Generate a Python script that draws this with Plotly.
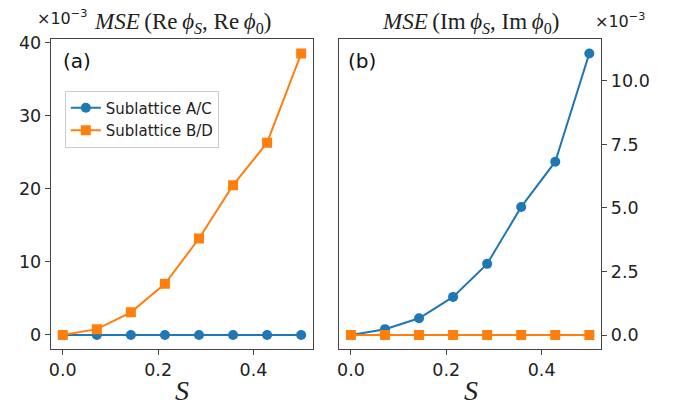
import plotly.graph_objects as go

S = [0.0, 1/14, 2/14, 3/14, 4/14, 5/14, 6/14, 7/14]
# values in units of 1e-3
re_ac = [0, 0, 0, 0, 0, 0, 0, 0]
re_bd = [0.0, 0.8, 3.1, 7.0, 13.2, 20.5, 26.3, 38.5]
im_ac = [0.0, 0.23, 0.66, 1.5, 2.8, 5.04, 6.82, 11.08]
im_bd = [0, 0, 0, 0, 0, 0, 0, 0]

left_yticks = [0, 10, 20, 30, 40]
right_yticks = [0.0, 2.5, 5.0, 7.5, 10.0]
xticks = [0.0, 0.2, 0.4]

BLUE = "#1f77b4"
ORANGE = "#ff7f0e"
W, H = 682, 412

fig = go.Figure()
fig.add_trace(go.Scatter(x=S, y=re_ac, mode="lines+markers", name="Sublattice A/C",
                         line=dict(color=BLUE, width=2), marker=dict(symbol="circle", size=10, color=BLUE),
                         xaxis="x", yaxis="y"))
fig.add_trace(go.Scatter(x=S, y=re_bd, mode="lines+markers", name="Sublattice B/D",
                         line=dict(color=ORANGE, width=2), marker=dict(symbol="square", size=10, color=ORANGE),
                         xaxis="x", yaxis="y"))
fig.add_trace(go.Scatter(x=S, y=im_ac, mode="lines+markers", showlegend=False,
                         line=dict(color=BLUE, width=2), marker=dict(symbol="circle", size=10, color=BLUE),
                         xaxis="x2", yaxis="y2"))
fig.add_trace(go.Scatter(x=S, y=im_bd, mode="lines+markers", showlegend=False,
                         line=dict(color=ORANGE, width=2), marker=dict(symbol="square", size=10, color=ORANGE),
                         xaxis="x2", yaxis="y2"))

tickfont = dict(family="DejaVu Sans", size=17.5, color="#222")
axcommon = dict(showgrid=False, zeroline=False, showline=True, linecolor="#444", linewidth=1.2,
                mirror=True, ticks="outside", ticklen=5, tickcolor="#444", tickfont=tickfont)

ydom = [(H - 348) / H, (H - 33) / H]
fig.update_layout(
    width=W, height=H, margin=dict(l=0, r=0, t=0, b=0),
    paper_bgcolor="white", plot_bgcolor="white",
    xaxis=dict(domain=[49 / W, 312 / W], range=[-0.025, 0.525], tickvals=xticks, tickformat=".1f",
               anchor="y", **axcommon),
    yaxis=dict(domain=ydom, range=[-1.93, 40.43], tickvals=left_yticks, anchor="x", **axcommon),
    xaxis2=dict(domain=[338 / W, 601 / W], range=[-0.025, 0.525], tickvals=xticks, tickformat=".1f",
                anchor="y2", **axcommon),
    yaxis2=dict(domain=ydom, range=[-0.554, 11.63], tickvals=right_yticks, tickformat=".1f",
                anchor="x2", side="right", **axcommon),
    legend=dict(x=63 / W, y=1 - 85 / H, xanchor="left", yanchor="top", bgcolor="white",
                bordercolor="#cccccc", borderwidth=1, font=dict(family="DejaVu Sans", size=15, color="#222"),
                tracegroupgap=0, itemwidth=30),
    showlegend=True,
)

serif = "Liberation Serif"
ann = [
    dict(x=181 / W, y=1 - 16 / H,
         text="<i>MSE</i>\u2009(Re\u2009<i>ϕ</i><sub><i>S</i></sub>, Re\u2009<i>ϕ</i><sub>0</sub>)",
         font=dict(family=serif, size=23, color="#222")),
    dict(x=470 / W, y=1 - 16 / H,
         text="<i>MSE</i>\u2009(Im\u2009<i>ϕ</i><sub><i>S</i></sub>, Im\u2009<i>ϕ</i><sub>0</sub>)",
         font=dict(family=serif, size=23, color="#222")),
    dict(x=60 / W, y=1 - 11 / H, text="×10<sup>−3</sup>", font=dict(family="DejaVu Sans", size=16, color="#222")),
    dict(x=620 / W, y=1 - 14 / H, text="×10<sup>−3</sup>", font=dict(family="DejaVu Sans", size=16, color="#222")),
    dict(x=75 / W, y=1 - 55 / H, text="(a)", font=dict(family="DejaVu Sans", size=20, color="#111")),
    dict(x=361 / W, y=1 - 55 / H, text="(b)", font=dict(family="DejaVu Sans", size=20, color="#111")),
    dict(x=181 / W, y=1 - 390 / H, text="<i>S</i>", font=dict(family=serif, size=28, color="#222")),
    dict(x=470 / W, y=1 - 390 / H, text="<i>S</i>", font=dict(family=serif, size=28, color="#222")),
]
for a in ann:
    a.update(xref="paper", yref="paper", showarrow=False, xanchor="center", yanchor="middle")
fig.update_layout(annotations=ann)

fig.write_html("out.html")
